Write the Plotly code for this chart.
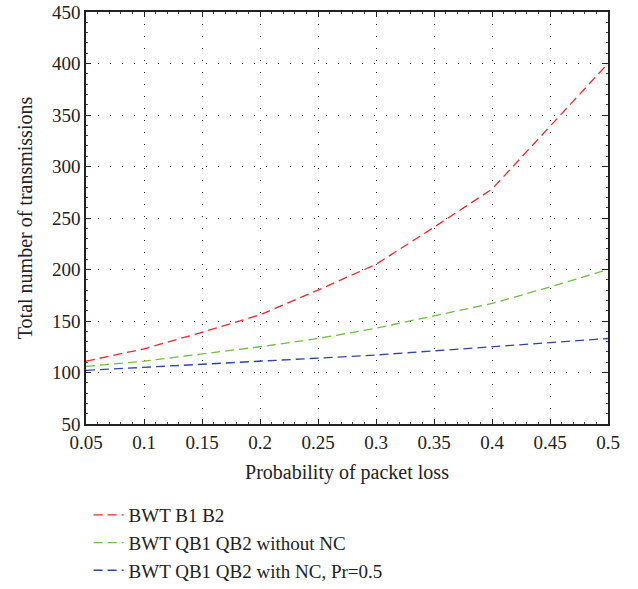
import plotly.graph_objects as go

p_loss = [0.05, 0.1, 0.15, 0.2, 0.25, 0.3, 0.35, 0.4, 0.45, 0.5]
bwt_b1_b2 = [111, 123, 139, 156, 180, 205, 241, 278, 339, 400]
bwt_qb_without_nc = [106, 111, 118, 125, 133, 143, 155, 167, 183, 200]
bwt_qb_with_nc = [102, 105, 108, 111, 114, 117, 121, 125, 129, 133]
series_names = ["BWT B1 B2", "BWT QB1 QB2 without NC", "BWT QB1 QB2 with NC, Pr=0.5"]
x_ticks = [0.05, 0.1, 0.15, 0.2, 0.25, 0.3, 0.35, 0.4, 0.45, 0.5]
x_tick_labels = ["0.05", "0.1", "0.15", "0.2", "0.25", "0.3", "0.35", "0.4", "0.45", "0.5"]
y_ticks = [50, 100, 150, 200, 250, 300, 350, 400, 450]

colors = ["#f2262b", "#6fbf45", "#2a48a8"]
font_family = "Liberation Serif, DejaVu Serif, serif"
txt = "#222"

fig = go.Figure()
for name, ys, c in zip(series_names, [bwt_b1_b2, bwt_qb_without_nc, bwt_qb_with_nc], colors):
    fig.add_trace(go.Scatter(x=p_loss, y=ys, mode="lines", name=name,
                             line=dict(color=c, width=1.3, dash="9px,5px")))

axis_common = dict(
    showline=True, linecolor=txt, linewidth=1.5, mirror="ticks",
    ticks="inside", ticklen=5, tickcolor=txt,
    showgrid=True, gridcolor="#333", gridwidth=1, griddash="1px,11px",
    zeroline=False, automargin=False, ticklabeloverflow="allow",
    tickfont=dict(family=font_family, size=19, color=txt),
)

fig.update_xaxes(range=[0.05, 0.5], tickvals=x_ticks, ticktext=x_tick_labels,
                 minor=dict(ticks="inside", ticklen=2.5, dtick=0.01, tickcolor="#444", showgrid=False),
                 title=dict(text="Probability of packet loss", font=dict(family=font_family, size=20, color=txt), standoff=13),
                 **axis_common)
fig.update_yaxes(range=[50, 450], tickvals=y_ticks,
                 minor=dict(ticks="inside", ticklen=2.5, dtick=10, tickcolor="#444", showgrid=False),
                 title=dict(text="Total number of transmissions", font=dict(family=font_family, size=20, color=txt), standoff=14),
                 **axis_common)

fig.update_layout(
    width=638, height=589,
    margin=dict(l=86, r=30, t=12, b=165, autoexpand=False),
    plot_bgcolor="white", paper_bgcolor="white",
    font=dict(family=font_family, size=19, color=txt),
    legend=dict(x=0.005, xanchor="left", yref="container", y=1 - 496 / 589, yanchor="top",
                orientation="v", tracegroupgap=0, itemwidth=30,
                font=dict(family=font_family, size=19, color=txt),
                bgcolor="rgba(0,0,0,0)"),
    showlegend=True,
)

fig.write_html("out.html", config={"displayModeBar": False},
               post_script="document.body.style.margin='0';document.body.style.overflow='hidden';")
